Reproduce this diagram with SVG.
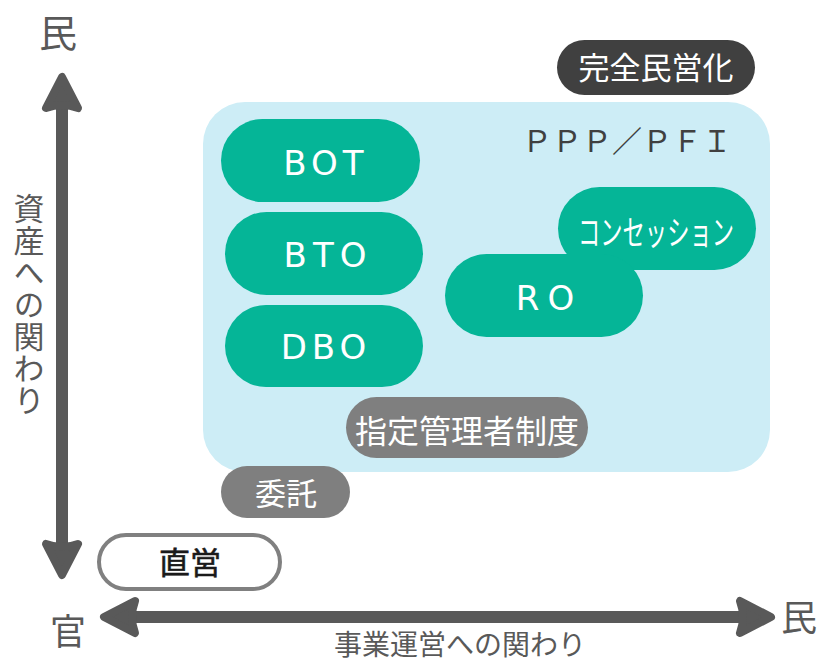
<svg xmlns="http://www.w3.org/2000/svg" width="825" height="662" viewBox="0 0 825 662">
<style>
.jp{font-family:"Noto Sans CJK JP","Noto Sans",sans-serif;}
.lat{font-family:"DejaVu Sans","Noto Sans",sans-serif;}
.teal{fill:#05B597;}
.gray{fill:#7F7F7F;}
.wt{fill:#FFFFFF;}
.axis{fill:#595959;}
.shaft{stroke:#595959;stroke-width:12;fill:none;}
.head{fill:#595959;stroke:#595959;stroke-width:8;stroke-linejoin:round;}
</style>
<defs>
<path id="ah" d="M0,0 L-31,-16 Q-25,0 -31,16 Z"/>
</defs>
<rect id="ppp-area" x="203" y="102" width="567" height="370" rx="42" fill="#CDEDF6"/>
<g id="connectors">
<line class="shaft" x1="62" y1="100" x2="62" y2="552"/>
<use href="#ah" class="head" transform="translate(62,77) rotate(-90)"/>
<use href="#ah" class="head" transform="translate(62,575) rotate(90)"/>
<line class="shaft" x1="128" y1="617" x2="748" y2="617"/>
<use href="#ah" class="head" transform="translate(104,617) rotate(180)"/>
<use href="#ah" class="head" transform="translate(771,617)"/>
</g>
<g id="axis-labels" class="jp axis">
<text x="58" y="47" font-size="38" text-anchor="middle">民</text>
<text x="68" y="645" font-size="36" text-anchor="middle">官</text>
<text x="799" y="631" font-size="36" text-anchor="middle">民</text>
<text x="29" y="193" font-size="31" style="writing-mode:vertical-rl" letter-spacing="1">資産への関わり</text>
<text x="460" y="655" font-size="28" text-anchor="middle">事業運営への関わり</text>
</g>
<g id="full-privatization">
<rect x="557" y="40" width="198" height="55" rx="27.5" fill="#404040"/>
<text class="jp wt" x="656" y="79" font-size="31" text-anchor="middle">完全民営化</text>
</g>
<text id="ppp-label" class="jp" x="522" y="152" font-size="30" fill="#404040">ＰＰＰ／ＰＦＩ</text>
<g id="bot">
<rect class="teal" x="221" y="119" width="199" height="83" rx="41.5"/>
<text class="lat wt" x="326" y="175" font-size="34" text-anchor="middle" letter-spacing="5">BOT</text>
</g>
<g id="bto">
<rect class="teal" x="225" y="212" width="198" height="83" rx="41.5"/>
<text class="lat wt" x="328" y="267" font-size="34" text-anchor="middle" letter-spacing="6">BTO</text>
</g>
<g id="dbo">
<rect class="teal" x="225" y="305" width="198" height="82" rx="41"/>
<text class="lat wt" x="326" y="359" font-size="34" text-anchor="middle" letter-spacing="5">DBO</text>
</g>
<g id="concession">
<rect class="teal" x="558" y="187" width="198" height="83" rx="41.5"/>
<text class="jp wt" x="578" y="245" font-size="34" textLength="156" lengthAdjust="spacingAndGlyphs">コンセッション</text>
</g>
<g id="ro">
<rect class="teal" x="445" y="254" width="198" height="83" rx="41.5"/>
<text class="lat wt" x="549" y="310" font-size="34" text-anchor="middle" letter-spacing="8">RO</text>
</g>
<g id="designated-manager">
<rect class="gray" x="346" y="397" width="242" height="61" rx="30.5"/>
<text class="jp wt" x="467" y="443" font-size="32" text-anchor="middle">指定管理者制度</text>
</g>
<g id="consignment">
<rect class="gray" x="221" y="466" width="129" height="52" rx="26"/>
<text class="jp wt" x="286" y="505" font-size="31" text-anchor="middle">委託</text>
</g>
<g id="direct">
<rect x="99" y="535" width="181" height="54" rx="27" fill="#FFFFFF" stroke="#808080" stroke-width="4"/>
<text class="jp" x="190" y="574" font-size="31" fill="#1A1A1A" stroke="#1A1A1A" stroke-width="0.6" text-anchor="middle">直営</text>
</g>
</svg>
